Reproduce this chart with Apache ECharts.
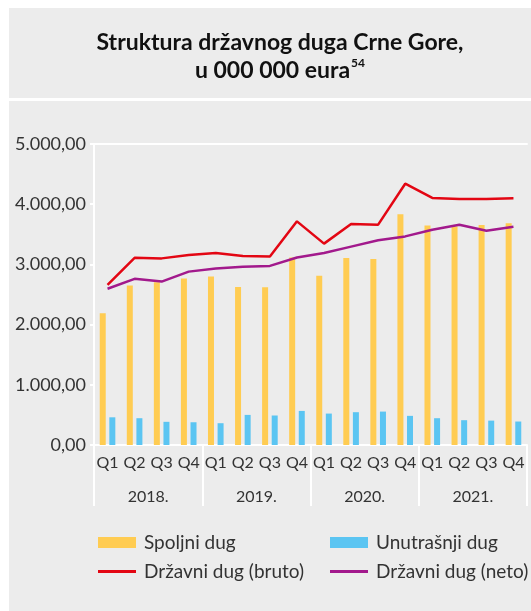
<!DOCTYPE html>
<html><head><meta charset="utf-8">
<script src="https://cdn.jsdelivr.net/npm/echarts@6/dist/echarts.min.js"></script>
<style>html,body{margin:0;padding:0;background:#fff}#c{width:531px;height:611px}</style>
</head><body><div id="c"></div>
<script>
const quarters = ['Q1','Q2','Q3','Q4','Q1','Q2','Q3','Q4','Q1','Q2','Q3','Q4','Q1','Q2','Q3','Q4'];
const years = ['2018.','2019.','2020.','2021.'];
const yTicks = [0,1000,2000,3000,4000,5000];
const spoljni = [2190,2650,2705,2765,2800,2625,2620,3115,2810,3105,3090,3835,3645,3630,3655,3685];
const unutrasnji = [460,445,385,378,362,500,490,566,522,545,555,484,445,412,405,390];
const bruto = [2660,3110,3100,3155,3190,3140,3130,3715,3345,3670,3660,4340,4105,4085,4085,4100];
const neto = [2595,2760,2715,2880,2930,2960,2975,3115,3190,3295,3400,3465,3575,3660,3560,3625];

const FONT = 'Lato';
const TXT = '#333';
const chart = echarts.init(document.getElementById('c'), null, {renderer:'canvas'});
const fmt = v => {
  const s = v.toFixed(2).split('.');
  return s[0].replace(/\B(?=(\d{3})+(?!\d))/g, '.') + ',' + s[1];
};
const legText = {fontFamily:FONT, fontSize:19, color:TXT, padding:[0,0,0,3]};
chart.setOption({
  animation:false,
  backgroundColor:'#fff',
  graphic:[
    {type:'rect', z:-10, shape:{x:9,y:8,width:522,height:90}, style:{fill:'#ececec'}},
    {type:'rect', z:-10, shape:{x:9,y:101,width:522,height:510}, style:{fill:'#ececec'}}
  ],
  title:{
    left:275, textAlign:'center', top:24,
    text:'{b|Struktura državnog duga Crne Gore,}\n{b|u 000 000 eura}{s|54}',
    textStyle:{
      rich:{
        b:{fontFamily:FONT, fontWeight:'bold', fontSize:23, color:'#111', lineHeight:28},
        s:{fontFamily:FONT, fontWeight:'bold', fontSize:12, color:'#111', lineHeight:28, verticalAlign:'top', padding:[0,0,12,1]}
      }
    }
  },
  legend:[
    {left:93, top:528, icon:'rect', itemWidth:38, itemHeight:11, itemGap:0, data:['Spoljni dug'], textStyle:legText},
    {left:325, top:528, icon:'rect', itemWidth:38, itemHeight:11, itemGap:0, data:['Unutrašnji dug'], textStyle:legText},
    {left:93, top:557, icon:'rect', itemWidth:38, itemHeight:3, itemGap:0, data:['Državni dug (bruto)'], textStyle:legText},
    {left:325, top:557, icon:'rect', itemWidth:38, itemHeight:3, itemGap:0, data:['Državni dug (neto)'], textStyle:legText}
  ],
  grid:{left:94, right:4, top:144, bottom:166},
  xAxis:[
    {type:'category', data:quarters, position:'bottom',
     axisLine:{show:true, lineStyle:{color:'#fff', width:2}},
     axisTick:{show:false},
     axisLabel:{fontFamily:FONT, fontSize:16, color:TXT, margin:10, interval:0}},
    {type:'category', data:years, position:'bottom',
     axisLine:{show:false},
     axisTick:{show:true, length:61, interval:0, lineStyle:{color:'#fff', width:2}},
     axisLabel:{fontFamily:FONT, fontSize:16, color:TXT, margin:44, interval:0}},
    {type:'category', data:quarters, position:'top',
     axisLine:{show:true, lineStyle:{color:'#fff', width:2}},
     axisTick:{show:false}, axisLabel:{show:false}}
  ],
  yAxis:{type:'value', min:yTicks[0], max:yTicks[yTicks.length-1], interval:1000,
    axisLine:{show:true, lineStyle:{color:'#fff', width:2}},
    axisTick:{show:true, length:4, lineStyle:{color:'#fff', width:2}},
    splitLine:{show:false},
    axisLabel:{fontFamily:FONT, fontSize:18, color:TXT, margin:8, formatter:fmt}
  },
  series:[
    {name:'Spoljni dug', type:'bar', data:spoljni, barWidth:6, barGap:'60%',
     itemStyle:{color:'#ffcc52'}},
    {name:'Unutrašnji dug', type:'bar', data:unutrasnji, barWidth:6,
     itemStyle:{color:'#5bc5f2'}},
    {name:'Državni dug (bruto)', type:'line', data:bruto, symbol:'none', showSymbol:false,
     lineStyle:{color:'#e30613', width:2.5}, itemStyle:{color:'#e30613'}},
    {name:'Državni dug (neto)', type:'line', data:neto, symbol:'none', showSymbol:false,
     lineStyle:{color:'#a2198c', width:2.5}, itemStyle:{color:'#a2198c'}}
  ]
});
</script></body></html>
